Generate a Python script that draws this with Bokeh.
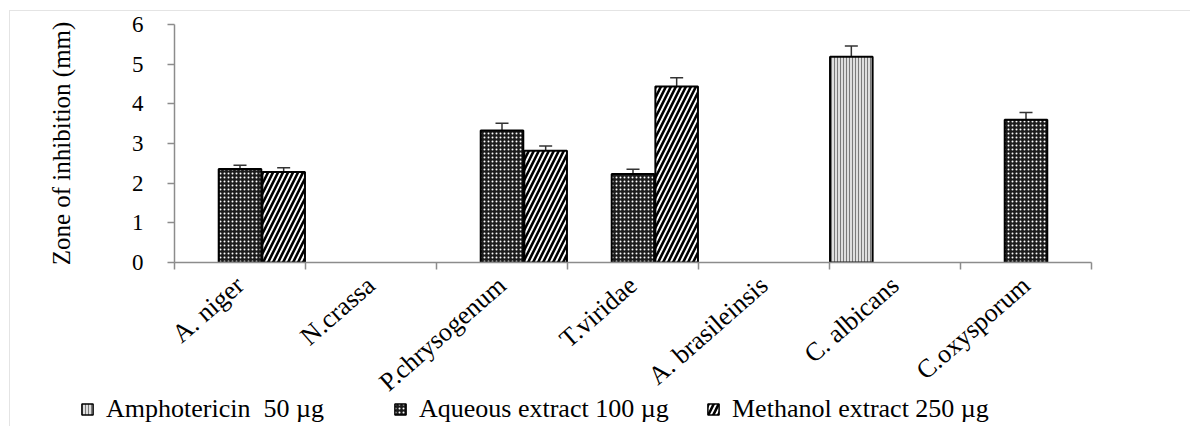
from bokeh.plotting import figure
from bokeh.layouts import column
from bokeh.models import Range1d, FixedTicker, Whisker, ColumnDataSource, Legend, LegendItem, TeeHead
from bokeh.embed import file_html
from bokeh.resources import INLINE

categories = ["A. niger", "N.crassa", "P.chrysogenum", "T.viridae",
              "A. brasileinsis", "C. albicans", "C.oxysporum"]
series_names = ["Amphotericin  50 \u00b5g", "Aqueous extract 100 \u00b5g", "Methanol extract 250 \u00b5g"]
amphotericin = [0, 0, 0, 0, 0, 5.19, 0]
aqueous = [2.36, 0, 3.33, 2.23, 0, 0, 3.60]
methanol = [2.28, 0, 2.82, 4.44, 0, 0, 0]
amphotericin_err = [0, 0, 0, 0, 0, 0.27, 0]
aqueous_err = [0.09, 0, 0.18, 0.12, 0, 0, 0.18]
methanol_err = [0.11, 0, 0.12, 0.22, 0, 0, 0]
y_ticks = [0, 1, 2, 3, 4, 5, 6]

FONT = "Liberation Serif"
GRAY = "#8c8c8c"

p = figure(width=1180, height=415, output_backend="svg", toolbar_location=None,
           x_range=Range1d(0, len(categories)), y_range=Range1d(0, 6),
           min_border_left=164, min_border_right=99, min_border_top=13, min_border_bottom=164)
p.frame_align = False
p.outline_line_color = None
p.xgrid.visible = False
p.ygrid.visible = False

styles = [
    dict(fill_color="#dedede", hatch_pattern="vertical_line", hatch_color="#7a7a7a", hatch_scale=3, hatch_weight=1),
    dict(fill_color="#1c1c1c", hatch_pattern="dot", hatch_color="white", hatch_scale=4, hatch_weight=1.2),
    dict(fill_color="white", hatch_pattern="right_diagonal_line", hatch_color="black", hatch_scale=10, hatch_weight=2.6),
]
offsets = [-1/3, 0, 1/3]
sources = []
for vals, errs, off, st in zip([amphotericin, aqueous, methanol],
                               [amphotericin_err, aqueous_err, methanol_err], offsets, styles):
    xs = [i + 0.5 + off for i, v in enumerate(vals) if v > 0]
    tops = [v for v in vals if v > 0]
    ups = [v + e for v, e in zip(vals, errs) if v > 0]
    src = ColumnDataSource(dict(x=xs, top=tops, upper=ups))
    sources.append(src)
    p.vbar(x="x", top="top", width=0.325, source=src, line_color="black", line_width=2, **st)
    w = Whisker(base="x", lower="top", upper="upper", source=src, line_color="#333333", line_width=1.5,
                upper_head=TeeHead(size=13, line_color="#333333", line_width=1.5), lower_head=None)
    p.add_layout(w)

# y axis
p.yaxis.ticker = FixedTicker(ticks=y_ticks)
p.yaxis.minor_tick_line_color = None
p.yaxis.major_tick_in = 0
p.yaxis.major_tick_out = 7
p.yaxis.major_tick_line_color = GRAY
p.yaxis.axis_line_color = GRAY
p.yaxis.axis_line_width = 1.5
p.yaxis.major_tick_line_width = 1.5
p.yaxis.major_label_text_font = FONT
p.yaxis.major_label_text_font_size = "23px"
p.yaxis.major_label_text_color = "black"
p.yaxis.major_label_standoff = 24
p.yaxis.axis_label = "Zone of inhibition (mm)"
p.yaxis.axis_label_text_font = FONT
p.yaxis.axis_label_text_font_size = "25px"
p.yaxis.axis_label_text_font_style = "normal"
p.yaxis.axis_label_text_color = "black"
p.yaxis.axis_label_standoff = 54

# x axis
centers = [i + 0.5 for i in range(len(categories))]
p.xaxis.ticker = FixedTicker(ticks=centers, minor_ticks=list(range(len(categories) + 1)))
p.xaxis.major_label_overrides = {c: name for c, name in zip(centers, categories)}
p.xaxis.major_tick_line_color = None
p.xaxis.major_tick_in = 0
p.xaxis.major_tick_out = 0
p.xaxis.minor_tick_line_color = GRAY
p.xaxis.minor_tick_line_width = 1.5
p.xaxis.minor_tick_in = 0
p.xaxis.minor_tick_out = 7
p.xaxis.axis_line_color = GRAY
p.xaxis.axis_line_width = 1.5
p.xaxis.major_label_orientation = 0.72
p.xaxis.major_label_text_font = FONT
p.xaxis.major_label_text_font_size = "26px"
p.xaxis.major_label_text_color = "black"
p.xaxis.major_label_standoff = 12

# legend strip: the same series sources, renderers hidden so only the legend shows
lf = figure(width=1180, height=38, output_backend="svg", toolbar_location=None,
            x_axis_type=None, y_axis_type=None, x_range=Range1d(0, len(categories)), y_range=Range1d(0, 6),
            min_border=0)
lf.frame_align = False
lf.margin = (-38, 0, 0, 0)
lf.outline_line_color = None
lf.background_fill_alpha = 0
lf.border_fill_alpha = 0
lf.xgrid.visible = False
lf.ygrid.visible = False
leg_renderers = []
for s, st in zip(sources, styles):
    r = lf.vbar(x="x", top="top", width=0.3, source=s, line_color="black", line_width=1.5, **st)
    r.visible = False
    leg_renderers.append(r)
legend = Legend(items=[LegendItem(label=n, renderers=[r]) for n, r in zip(series_names, leg_renderers)],
                orientation="horizontal", location=(70, 2))
legend.label_text_font = FONT
legend.label_text_font_size = "26px"
legend.label_text_color = "black"
legend.label_width = 267
legend.glyph_width = 14
legend.glyph_height = 14
legend.spacing = 20
legend.label_standoff = 12
legend.padding = 2
legend.margin = 0
legend.border_line_color = None
legend.background_fill_alpha = 0
legend.inactive_fill_alpha = 0
lf.add_layout(legend, "center")

layout = column(p, lf, spacing=0)
layout.margin = (10, 0, 0, 9)
layout.styles = {"border-top": "1px solid #e4e4e4", "border-left": "1px solid #e4e4e4"}

open("out.html", "w").write(file_html(layout, INLINE))
